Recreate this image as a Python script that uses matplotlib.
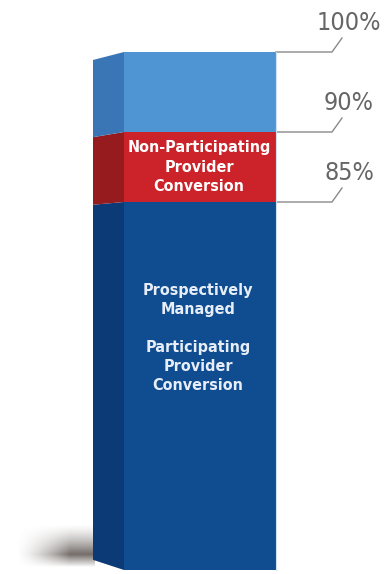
import matplotlib
matplotlib.use("Agg")
import matplotlib.pyplot as plt
import numpy as np

# stacked segments (percent of total)
segments = ["Prospectively\nManaged\n\nParticipating\nProvider\nConversion",
            "Non-Participating\nProvider\nConversion",
            ""]
seg_values = [85, 5, 10]
level_labels = ["85%", "90%", "100%"]
front_colors = ["#0f4c90", "#cc2229", "#4f95d4"]
side_colors = ["#0b3a76", "#961b1f", "#3a76b6"]

# the picture is not drawn to scale: piecewise scale percent -> pixel height
P_KNOTS = [-0.91, 0, 85, 90, 100, 106.5]
H_KNOTS = [0, 4, 372, 442, 522, 574]


def fwd(p):
    return np.interp(p, P_KNOTS, H_KNOTS)


def inv(h):
    return np.interp(h, H_KNOTS, P_KNOTS)


fig = plt.figure(figsize=(3.85, 5.74), dpi=100)
ax = fig.add_axes([0, 0, 1, 1])
ax.set_xlim(0, 385)
ax.set_yscale("function", functions=(fwd, inv))
ax.set_ylim(P_KNOTS[0], P_KNOTS[-1])
ax.axis("off")

narrow = dict(family="DejaVu Sans", fontstretch="condensed")

# soft shadow at the foot of the bar (blurred gradient)
sx = np.linspace(15, 95, 80)
sy = np.linspace(6, 50, 44)          # pixel heights from the bottom
ax_ = np.clip((sx - 15) / 55, 0, 1) ** 1.5
ay_ = np.where(sy < 19, np.clip((sy - 6) / 13, 0, 1),
               np.clip((50 - sy) / 31, 0, 1) ** 1.4)
alpha = 0.8 * np.outer(ay_, ax_)
rgba = np.zeros(alpha.shape + (4,))
rgba[..., 0], rgba[..., 1], rgba[..., 2] = 0.31, 0.28, 0.26
rgba[..., 3] = alpha
ax.imshow(rgba, extent=[15, 95, inv(6), inv(50)], origin="lower",
          aspect="auto", interpolation="bilinear", zorder=1)

# perspective for the side face
k, c = 0.965, 294.0
x_side0, x_front0, x_front1 = 93, 124, 276

bottoms = np.concatenate([[0], np.cumsum(seg_values)[:-1]])
for seg, val, b, fc, sc in zip(segments, seg_values, bottoms, front_colors, side_colors):
    ax.bar(x_front0 + (x_front1 - x_front0) / 2, val, bottom=b,
           width=x_front1 - x_front0, color=fc, lw=0, zorder=3)
    h0, h1 = fwd(b), fwd(b + val)
    l0, l1 = c + (h0 - c) * k, c + (h1 - c) * k
    ax.fill([x_side0, x_front0, x_front0, x_side0],
            [inv(l0), b, b + val, inv(l1)], color=sc, lw=0, zorder=3)

# thin highlight on the right edge
ax.plot([x_front1, x_front1], [0, 100], color="#cfe0f2", lw=0.8, zorder=4)

# labels inside the bar
ax.text(199, inv(fwd(85) + 35), segments[1], ha="center", va="center",
        color="white", fontsize=11.5, fontweight="bold", linespacing=1.35,
        zorder=5, **narrow)
ax.text(198, inv(574 - 338), segments[0], ha="center", va="center",
        color="#e8eef8", fontsize=11.5, fontweight="bold", linespacing=1.35,
        zorder=5, **narrow)

# leader lines and level labels
levels = np.cumsum(seg_values)
for lv, lab in zip(levels, level_labels):
    ax.plot([x_front1, 332, 342], [lv, lv, inv(fwd(lv) + 14)],
            color="#8a8a8a", lw=1, zorder=2)
    ax.annotate(lab, xy=(349, lv), xytext=(0, 29 * 0.72), textcoords="offset points",
                ha="center", va="center", color="#666666", fontsize=18, **narrow)

ax.set_xlim(0, 385)
ax.set_ylim(P_KNOTS[0], P_KNOTS[-1])
fig.savefig("out.png", dpi=100)
